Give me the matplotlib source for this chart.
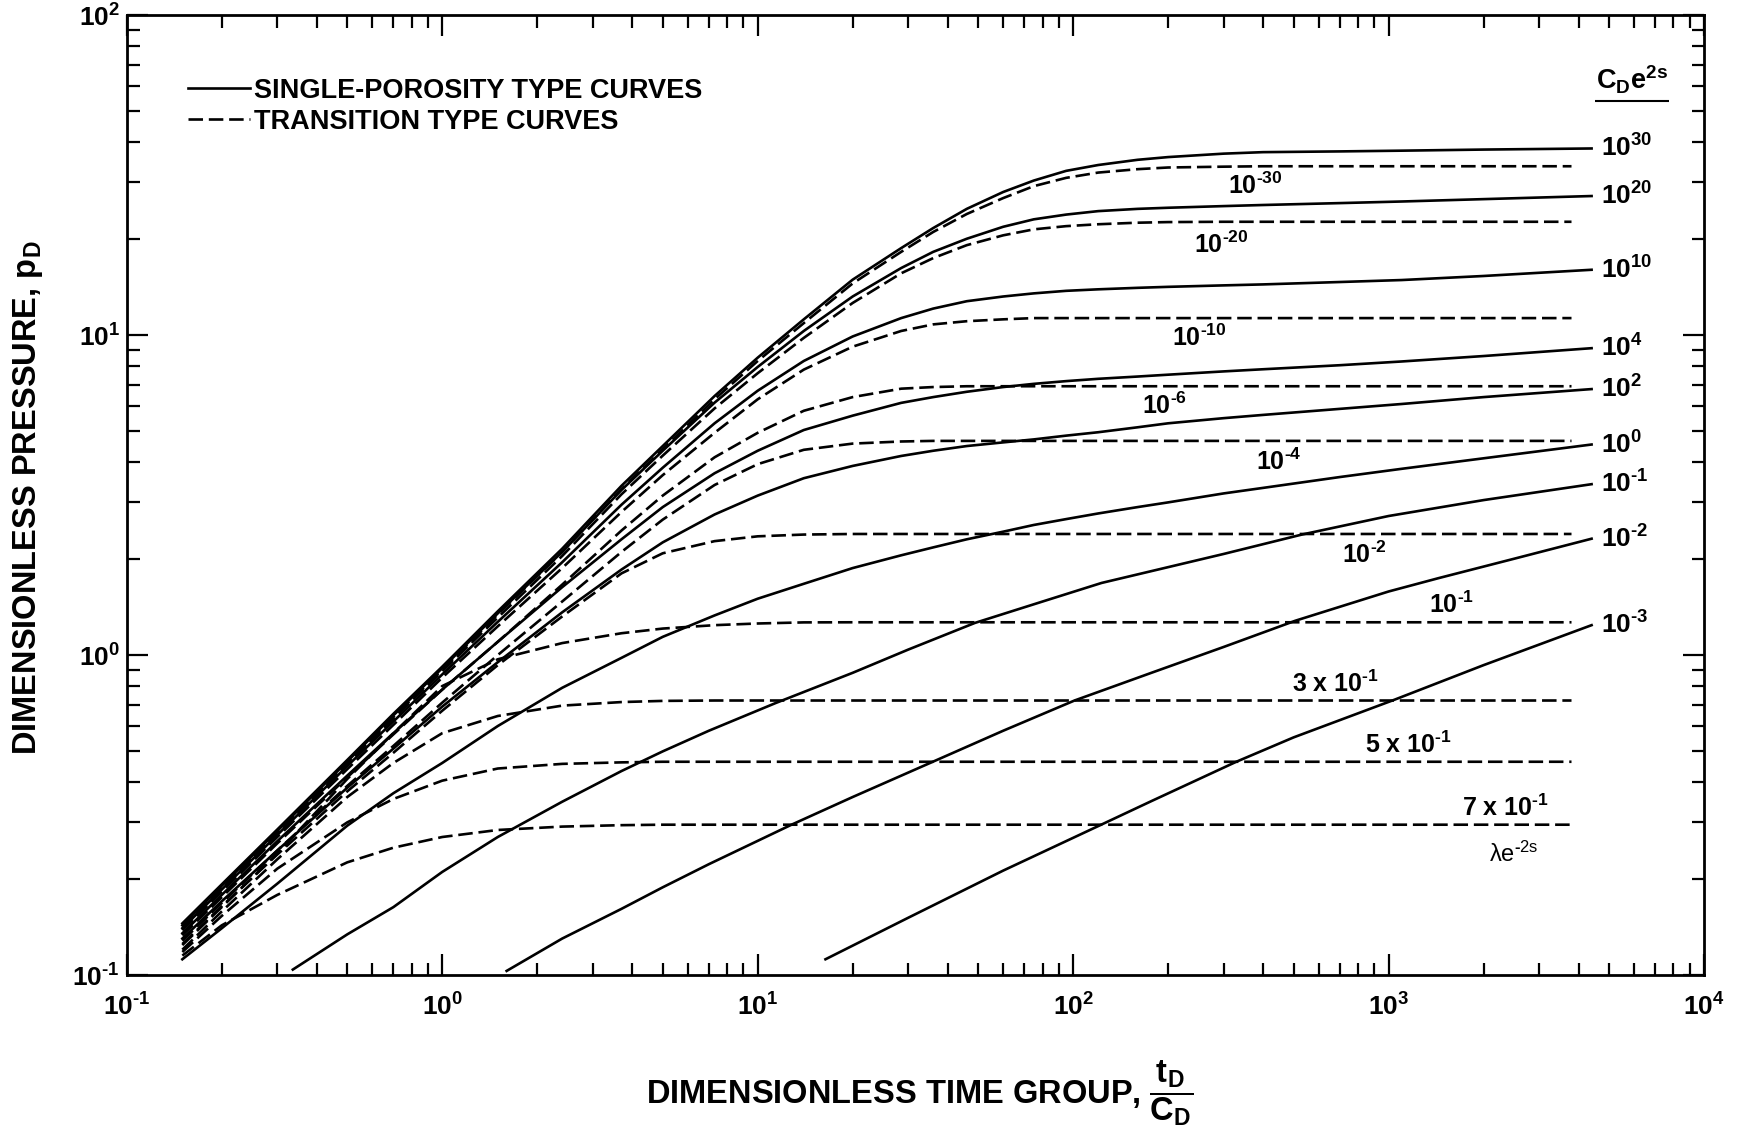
import math
import matplotlib
matplotlib.use('Agg')
import matplotlib.pyplot as plt
from matplotlib.ticker import NullFormatter, FuncFormatter

plt.rcParams['font.family'] = ['Liberation Sans', 'DejaVu Sans']
plt.rcParams['font.weight'] = 'bold'
plt.rcParams['mathtext.default'] = 'regular'
plt.rcParams['mathtext.fontset'] = 'custom'
plt.rcParams['mathtext.rm'] = 'Liberation Sans:bold'

# single-porosity curves that start on the storage line (tD/CD grid)
t_sp = [0.15, 0.2, 0.3, 0.5, 0.7, 1, 1.5, 2.4, 3.7, 5, 7.3, 10, 14, 20, 28.5, 36, 46,
        60, 75, 95, 120, 160, 200, 300, 400, 700, 1100, 2000, 4400]
p_sp_1e30 = [0.145, 0.192, 0.285, 0.47, 0.655, 0.92, 1.37, 2.15, 3.38, 4.5, 6.45, 8.5, 11.2,
             14.9, 18.7, 21.6, 24.8, 28.0, 30.4, 32.6, 34.0, 35.3, 36.0, 36.9, 37.3, 37.5,
             37.7, 38.0, 38.3]
p_sp_1e20 = [0.143, 0.19, 0.282, 0.465, 0.648, 0.91, 1.35, 2.1, 3.28, 4.35, 6.15, 7.95, 10.3,
             13.2, 16.2, 18.2, 20.0, 21.8, 23.0, 23.8, 24.4, 24.8, 25.0, 25.3, 25.5, 25.85,
             26.15, 26.6, 27.2]
p_sp_1e10 = [0.14, 0.185, 0.274, 0.45, 0.62, 0.87, 1.27, 1.95, 2.95, 3.85, 5.3, 6.7, 8.3,
             9.9, 11.3, 12.1, 12.76, 13.2, 13.5, 13.75, 13.9, 14.05, 14.15, 14.3, 14.4,
             14.65, 14.86, 15.3, 16.0]
p_sp_1e4 = [0.135, 0.178, 0.262, 0.42, 0.57, 0.78, 1.1, 1.63, 2.3, 2.9, 3.7, 4.35, 5.05,
            5.6, 6.14, 6.4, 6.65, 6.88, 7.04, 7.18, 7.3, 7.42, 7.52, 7.7, 7.82, 8.05, 8.27,
            8.6, 9.1]
p_sp_1e2 = [0.13, 0.17, 0.245, 0.385, 0.51, 0.69, 0.95, 1.36, 1.85, 2.25, 2.75, 3.15, 3.57,
            3.9, 4.19, 4.35, 4.5, 4.62, 4.72, 4.85, 4.97, 5.15, 5.3, 5.5, 5.63, 5.88, 6.09,
            6.4, 6.78]
p_sp_1e0 = [0.112, 0.14, 0.193, 0.293, 0.37, 0.46, 0.6, 0.79, 0.98, 1.14, 1.33, 1.5, 1.67,
            1.87, 2.05, 2.17, 2.3, 2.43, 2.55, 2.66, 2.77, 2.9, 3.0, 3.2, 3.33, 3.6, 3.82,
            4.12, 4.55]

# single-porosity curves that enter from the bottom of the chart
t_sp_1em1 = [0.336, 0.5, 0.7, 1.0, 1.5, 2.4, 3.7, 5, 7, 11.4, 20, 30, 48.8, 80, 123, 190,
             300, 531, 1000, 2000, 4400]
p_sp_1em1 = [0.104, 0.134, 0.163, 0.21, 0.27, 0.348, 0.434, 0.5, 0.58, 0.708, 0.88, 1.04,
             1.26, 1.47, 1.68, 1.86, 2.07, 2.38, 2.72, 3.05, 3.42]
t_sp_1em2 = [1.6, 2.4, 3.7, 5, 7, 12.8, 20, 35.9, 60, 101, 177, 300, 506, 1000, 1442, 2500, 4400]
p_sp_1em2 = [0.103, 0.13, 0.161, 0.188, 0.222, 0.295, 0.36, 0.464, 0.58, 0.721, 0.88, 1.06,
             1.28, 1.58, 1.74, 2.0, 2.31]
t_sp_1em3 = [16.4, 30, 60, 122.7, 177.5, 329, 500, 1047, 2000, 4400]
p_sp_1em3 = [0.112, 0.151, 0.212, 0.295, 0.35, 0.464, 0.553, 0.726, 0.93, 1.24]

# transition curves (lambda e^-2s)
t_tr_long = [0.15, 0.2, 0.3, 0.5, 0.7, 1, 1.5, 2.4, 3.7, 5, 7.3, 10, 14, 20, 28.5, 36, 46,
             60, 75, 95, 120, 160, 200, 300, 400, 3800]
p_tr_1em30 = [0.142, 0.188, 0.279, 0.46, 0.64, 0.9, 1.34, 2.1, 3.3, 4.4, 6.3, 8.3, 10.9,
              14.5, 18.2, 21.0, 23.9, 26.8, 29.2, 31.0, 32.2, 33.0, 33.4, 33.6, 33.7, 33.7]
p_tr_1em20 = [0.14, 0.186, 0.276, 0.455, 0.633, 0.89, 1.31, 2.04, 3.18, 4.2, 5.9, 7.6, 9.8,
              12.6, 15.6, 17.4, 19.1, 20.5, 21.4, 21.9, 22.2, 22.45, 22.55, 22.6, 22.6, 22.6]
t_tr = [0.15, 0.2, 0.3, 0.5, 0.7, 1, 1.5, 2.4, 3.7, 5, 7.3, 10, 14, 20, 28.5, 36, 46, 60,
        75, 3800]
p_tr_1em10 = [0.138, 0.182, 0.27, 0.44, 0.605, 0.85, 1.23, 1.87, 2.8, 3.65, 4.95, 6.3, 7.8,
              9.2, 10.3, 10.8, 11.05, 11.2, 11.3, 11.3]
p_tr_1em6 = [0.133, 0.175, 0.258, 0.415, 0.565, 0.78, 1.1, 1.66, 2.45, 3.15, 4.15, 4.95, 5.8,
             6.4, 6.8, 6.88, 6.92, 6.92, 6.92, 6.92]
p_tr_1em4 = [0.128, 0.168, 0.245, 0.39, 0.52, 0.71, 1.0, 1.47, 2.1, 2.65, 3.4, 3.95, 4.38,
             4.58, 4.65, 4.67, 4.67, 4.67, 4.67, 4.67]
p_tr_1em2 = [0.125, 0.164, 0.238, 0.375, 0.495, 0.67, 0.93, 1.32, 1.8, 2.08, 2.27, 2.35,
             2.38, 2.39, 2.39, 2.39, 2.39, 2.39, 2.39, 2.39]
p_tr_1em1 = [0.124, 0.163, 0.24, 0.41, 0.57, 0.8, 0.97, 1.09, 1.17, 1.21, 1.24, 1.255,
             1.265, 1.266, 1.266, 1.266, 1.266, 1.266, 1.266, 1.266]
p_tr_3em1 = [0.12, 0.158, 0.23, 0.36, 0.46, 0.57, 0.645, 0.695, 0.713, 0.719, 0.721, 0.721,
             0.721, 0.721, 0.721, 0.721, 0.721, 0.721, 0.721, 0.721]
p_tr_5em1 = [0.118, 0.153, 0.215, 0.3, 0.355, 0.405, 0.442, 0.457, 0.462, 0.464, 0.464,
             0.464, 0.464, 0.464, 0.464, 0.464, 0.464, 0.464, 0.464, 0.464]
p_tr_7em1 = [0.115, 0.143, 0.178, 0.225, 0.25, 0.27, 0.284, 0.291, 0.294, 0.295, 0.295,
             0.295, 0.295, 0.295, 0.295, 0.295, 0.295, 0.295, 0.295, 0.295]

H = r'\text{-}'
sp_labels = ['$10^{30}$', '$10^{20}$', '$10^{10}$', '$10^{4}$', '$10^{2}$', '$10^{0}$',
             '$10^{%s1}$' % H, '$10^{%s2}$' % H, '$10^{%s3}$' % H]
tr_labels = ['$10^{%s30}$' % H, '$10^{%s20}$' % H, '$10^{%s10}$' % H, '$10^{%s6}$' % H,
             '$10^{%s4}$' % H, '$10^{%s2}$' % H, '$10^{%s1}$' % H, '3 x $10^{%s1}$' % H,
             '5 x $10^{%s1}$' % H, '7 x $10^{%s1}$' % H]
tr_label_x = [377, 295, 252, 195, 447, 841, 1585, 676, 1156, 2340]
tr_label_y = [29.2, 19.2, 9.83, 5.99, 4.03, 2.06, 1.44, 0.814, 0.526, 0.334]

sp_curves = [(t_sp, p_sp_1e30), (t_sp, p_sp_1e20), (t_sp, p_sp_1e10), (t_sp, p_sp_1e4),
             (t_sp, p_sp_1e2), (t_sp, p_sp_1e0), (t_sp_1em1, p_sp_1em1),
             (t_sp_1em2, p_sp_1em2), (t_sp_1em3, p_sp_1em3)]
tr_curves = [(t_tr_long, p_tr_1em30), (t_tr_long, p_tr_1em20), (t_tr, p_tr_1em10),
             (t_tr, p_tr_1em6), (t_tr, p_tr_1em4), (t_tr, p_tr_1em2), (t_tr, p_tr_1em1),
             (t_tr, p_tr_3em1), (t_tr, p_tr_5em1), (t_tr, p_tr_7em1)]


def decade_label(v, pos):
    e = int(round(math.log10(v)))
    if e < 0:
        return '$10^{%s%d}$' % (H, -e)
    return '$10^{%d}$' % e


fig = plt.figure(figsize=(17.44, 11.36), dpi=100)
ax = fig.add_axes([0.0727, 0.1417, 0.9044, 0.845])

dash = (0, (5.5, 2.2))
for i, (t, p) in enumerate(sp_curves):
    ax.plot(t, p, color='black', lw=1.9,
            label='SINGLE-POROSITY TYPE CURVES' if i == 0 else None)
    ax.text(4700, p[-1], sp_labels[i], ha='left', va='center', fontsize=19)
for i, (t, p) in enumerate(tr_curves):
    ax.plot(t, p, color='black', lw=1.9, linestyle=dash,
            label='TRANSITION TYPE CURVES' if i == 0 else None)
    ax.text(tr_label_x[i], tr_label_y[i], tr_labels[i], ha='center', va='center',
            fontsize=18)

ax.text(2489, 0.2388, '\u03bbe$^{%s2s}$' % H, ha='center', va='center', fontsize=17,
        fontweight='normal')

# column header for the single-porosity labels
hdr_x, hdr_y = 5916, 62.6
ax.text(hdr_x, hdr_y, '$C_De^{2s}$', ha='center', va='center', fontsize=19.5)
ax.hlines(hdr_y * 0.863, hdr_x / 1.31, hdr_x * 1.31, color='black', lw=1.5)

ax.set_xscale('log')
ax.set_yscale('log')
ax.set_xlim(0.1, 1e4)
ax.set_ylim(0.1, 100)
ax.xaxis.set_major_formatter(FuncFormatter(decade_label))
ax.yaxis.set_major_formatter(FuncFormatter(decade_label))
ax.xaxis.set_minor_formatter(NullFormatter())
ax.yaxis.set_minor_formatter(NullFormatter())
ax.tick_params(which='both', direction='in', top=True, right=True, width=1.6)
ax.tick_params(which='major', length=15, labelsize=19)
ax.tick_params(which='minor', length=9)
ax.tick_params(axis='x', which='major', pad=13)
ax.tick_params(axis='y', which='major', pad=5)
for s in ax.spines.values():
    s.set_linewidth(2.0)

ax.set_xlabel('DIMENSIONLESS TIME GROUP, $\\dfrac{t_D}{C_D}$', fontsize=23.5,
              fontweight='bold')
ax.xaxis.set_label_coords(0.5026, -0.086)
ax.set_ylabel('DIMENSIONLESS PRESSURE, $p_D$', fontsize=23.5, fontweight='bold')
ax.yaxis.set_label_coords(-0.052, 0.497)

ax.legend(loc='upper left', bbox_to_anchor=(0.0388, 0.935), frameon=False,
          fontsize=19.5, handlelength=2.3, handletextpad=0.15, borderpad=0,
          borderaxespad=0, labelspacing=0.2)

fig.savefig('out.png', dpi=100, facecolor='white')
plt.close(fig)
